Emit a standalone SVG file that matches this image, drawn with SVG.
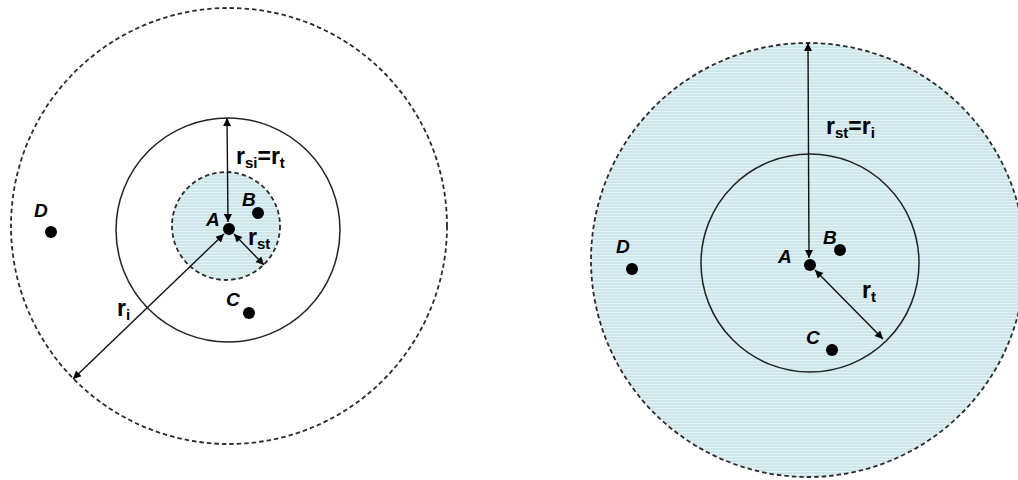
<svg xmlns="http://www.w3.org/2000/svg" width="1018" height="480" viewBox="0 0 1018 480">
<style>
.dash{fill:none;stroke:#2a2a2a;stroke-width:1.8;stroke-dasharray:4.5 3}
.shaded{fill:url(#stripes)}
.solid{fill:none;stroke:#222;stroke-width:1.5}
.arr{stroke:#111;stroke-width:1.4;fill:none;marker-start:url(#ah);marker-end:url(#ah)}
.dot{fill:#000}
.lbl{font-family:"Liberation Sans",Arial,sans-serif;font-weight:bold;font-style:italic;font-size:19px;fill:#000}
.r{font-family:"Liberation Sans",Arial,sans-serif;font-weight:bold;font-size:23px;fill:#000}
.sub{font-size:15px}
</style>
<defs>
<marker id="ah" viewBox="0 0 10 10" refX="10" refY="5" markerWidth="10" markerHeight="8" markerUnits="userSpaceOnUse" orient="auto-start-reverse">
<path d="M0,0 L10,5 L0,10 Z" fill="#000"/>
</marker>
<pattern id="stripes" width="4" height="3" patternUnits="userSpaceOnUse">
<rect width="4" height="3" fill="#cde6ea"/>
<rect y="0" width="4" height="1" fill="#e6f3f5"/>
</pattern>
</defs>
<rect width="1018" height="480" fill="#fff"/>

<g id="left-diagram">
<g id="left-outer"><circle class="dash" cx="229" cy="226" r="218"/></g>
<g id="left-middle"><circle class="solid" cx="228" cy="230" r="112"/></g>
<g id="left-inner"><circle cx="226" cy="226" r="54" class="dash shaded"/></g>
<g id="left-A"><circle class="dot" cx="229" cy="229" r="6"/><text class="lbl" x="206" y="226">A</text></g>
<g id="left-B"><circle class="dot" cx="258" cy="213" r="6"/><text class="lbl" x="242" y="206">B</text></g>
<g id="left-C"><circle class="dot" cx="249" cy="313" r="6"/><text class="lbl" x="226" y="306">C</text></g>
<g id="left-D"><circle class="dot" cx="51" cy="232" r="6"/><text class="lbl" x="34" y="217">D</text></g>
</g>

<g id="right-diagram">
<g id="right-outer"><circle cx="808" cy="260" r="217" class="dash shaded"/></g>
<g id="right-middle"><circle class="solid" cx="810" cy="263" r="109"/></g>
<g id="right-A"><circle class="dot" cx="810" cy="265" r="6"/><text class="lbl" x="778" y="263">A</text></g>
<g id="right-B"><circle class="dot" cx="840" cy="250" r="6"/><text class="lbl" x="823" y="244">B</text></g>
<g id="right-C"><circle class="dot" cx="832" cy="350" r="6"/><text class="lbl" x="806" y="344">C</text></g>
<g id="right-D"><circle class="dot" cx="632" cy="269" r="6"/><text class="lbl" x="616" y="253">D</text></g>
</g>

<g id="connectors">
<line class="arr" x1="227" y1="118" x2="228" y2="222"/>
<line class="arr" x1="224" y1="234" x2="73" y2="379"/>
<line class="arr" x1="234" y1="234" x2="264" y2="265"/>
<line class="arr" x1="808" y1="43" x2="809" y2="258"/>
<line class="arr" x1="815" y1="270" x2="883" y2="339"/>
</g>

<g id="labels">
<text class="r" x="236" y="164">r<tspan class="sub" dy="4">si</tspan><tspan dy="-4">=r</tspan><tspan class="sub" dy="4">t</tspan></text>
<text class="r" x="248" y="245">r<tspan class="sub" dy="4">st</tspan></text>
<text class="r" x="117" y="316">r<tspan class="sub" dy="4">i</tspan></text>
<text class="r" x="826" y="134">r<tspan class="sub" dy="4">st</tspan><tspan dy="-4">=r</tspan><tspan class="sub" dy="4">i</tspan></text>
<text class="r" x="862" y="298">r<tspan class="sub" dy="4">t</tspan></text>
</g>
</svg>
